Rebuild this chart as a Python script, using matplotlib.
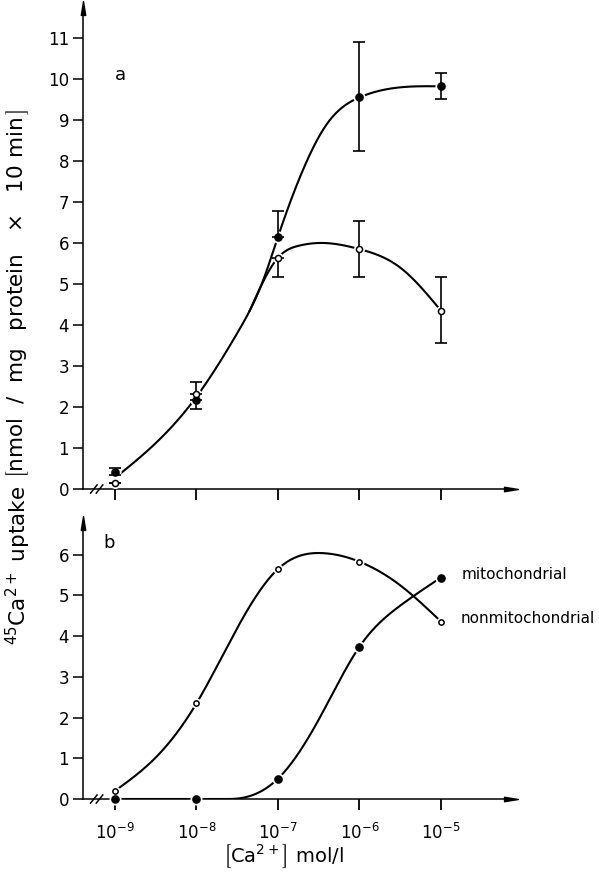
import numpy as np
import matplotlib
matplotlib.use("Agg")
import matplotlib.pyplot as plt
from matplotlib.path import Path

# x positions: decades above 1e-9 mol/l (0 -> 1e-9, 4 -> 1e-5)
conc_u = [0, 1, 2, 3, 4]
conc_labels = [r'$10^{-9}$', r'$10^{-8}$', r'$10^{-7}$', r'$10^{-6}$', r'$10^{-5}$']

# panel a: total uptake (filled) and uptake with inhibitor (open)
a_filled = [0.42, 2.18, 6.14, 9.55, 9.82]
a_filled_lo = [0.08, 0.23, 0.0, 1.30, 0.30]
a_filled_hi = [0.08, 0.0, 0.65, 1.35, 0.33]
a_open = [0.15, 2.32, 5.64, 5.85, 4.35]
a_open_lo = [0.0, 0.0, 0.48, 0.69, 0.78]
a_open_hi = [0.0, 0.28, 0.0, 0.69, 0.81]

# fitted curves in panel a
a_filled_fit_u = [0, 0.5, 1, 1.5, 1.82, 2, 2.3, 2.6, 3, 4]
a_filled_fit_y = [0.27, 1.12, 2.25, 3.8, 5.1, 6.15, 7.75, 8.9, 9.55, 9.82]
a_open_fit_u = [2, 2.25, 2.55, 3, 3.5, 4]
a_open_fit_y = [5.64, 5.93, 6.0, 5.85, 5.4, 4.35]
a_branch_u = 1.65

# panel b: mitochondrial (filled) and nonmitochondrial (open)
b_mito = [0.0, 0.0, 0.5, 3.74, 5.44]
b_nonmito = [0.2, 2.35, 5.65, 5.83, 4.36]
b_mito_flat_end = 1.4
b_mito_fit_u = [1.4, 2, 2.5, 3, 3.5, 4]
b_mito_fit_y = [0.0, 0.5, 1.95, 3.74, 4.75, 5.44]
b_nonmito_fit_u = [0, 0.5, 1, 1.5, 2, 2.55, 3, 3.5, 4]
b_nonmito_fit_y = [0.2, 1.02, 2.35, 4.2, 5.65, 6.04, 5.83, 5.25, 4.36]


def spline(xk, yk, xs, d0=None, dn=None):
    """Cubic spline through the knots; natural ends unless a slope is given."""
    x = np.asarray(xk, float)
    y = np.asarray(yk, float)
    n = len(x)
    h = np.diff(x)
    A = np.zeros((n, n))
    b = np.zeros(n)
    for i in range(1, n - 1):
        A[i, i - 1] = h[i - 1]
        A[i, i] = 2 * (h[i - 1] + h[i])
        A[i, i + 1] = h[i]
        b[i] = 6 * ((y[i + 1] - y[i]) / h[i] - (y[i] - y[i - 1]) / h[i - 1])
    if d0 is None:
        A[0, 0] = 1
    else:
        A[0, 0], A[0, 1] = 2 * h[0], h[0]
        b[0] = 6 * ((y[1] - y[0]) / h[0] - d0)
    if dn is None:
        A[-1, -1] = 1
    else:
        A[-1, -2], A[-1, -1] = h[-1], 2 * h[-1]
        b[-1] = 6 * (dn - (y[-1] - y[-2]) / h[-1])
    M = np.linalg.solve(A, b)
    xs = np.asarray(xs, float)
    i = np.clip(np.searchsorted(x, xs) - 1, 0, n - 2)
    t1 = x[i + 1] - xs
    t0 = xs - x[i]
    return (M[i] * t1**3 / (6 * h[i]) + M[i + 1] * t0**3 / (6 * h[i])
            + (y[i] / h[i] - M[i] * h[i] / 6) * t1
            + (y[i + 1] / h[i] - M[i + 1] * h[i] / 6) * t0)


# long thin arrow heads for the axes
ARROW_R = Path([(-1, -0.32), (1, 0), (-1, 0.32), (-1, -0.32)],
               [Path.MOVETO, Path.LINETO, Path.LINETO, Path.CLOSEPOLY])
ARROW_U = Path([(-0.32, -1), (0, 1), (0.32, -1), (-0.32, -1)],
               [Path.MOVETO, Path.LINETO, Path.LINETO, Path.CLOSEPOLY])

LW = 1.5


def style_axis(ax, ymax, yticks):
    ax.set_xlim(-0.393, 4.86)
    ax.set_ylim(0, ymax)
    for s in ['top', 'right']:
        ax.spines[s].set_visible(False)
    for s in ['left', 'bottom']:
        ax.spines[s].set_linewidth(1.1)
    ax.set_xticks(conc_u)
    ax.set_yticks(yticks)
    ax.tick_params(axis='x', direction='out', length=8, width=1.3, pad=9)
    ax.tick_params(axis='y', direction='out', length=7, width=1.1, pad=3,
                   labelsize=12)
    ax.plot(1.0, 0, marker=ARROW_R, color='k', markersize=10,
            transform=ax.transAxes, clip_on=False)
    ax.plot(0, 1.0, marker=ARROW_U, color='k', markersize=10,
            transform=ax.transAxes, clip_on=False)
    # axis break marks
    for c in [-0.26, -0.19]:
        ax.plot([c - 0.04, c + 0.04], [-0.1, 0.1], color='k', lw=1.1,
                clip_on=False)


def markers(ax, u, y, filled, ms):
    ax.plot(u, y, 'o', ms=ms + 2.5, color='white', mec='white',
            zorder=3, clip_on=False)
    if filled:
        ax.plot(u, y, 'o', ms=ms, color='k', mec='k', zorder=5, clip_on=False)
    else:
        ax.plot(u, y, 'o', ms=ms, mfc='white', mec='k', mew=1.1,
                zorder=5, clip_on=False)


fig = plt.figure(figsize=(5.99, 8.74), dpi=100)
ax1 = fig.add_axes([83 / 599, 1 - 489 / 874, 428 / 599, 481 / 874])
ax2 = fig.add_axes([83 / 599, 1 - 799 / 874, 428 / 599, 276 / 874])

# ---- panel a ----
style_axis(ax1, 11.73, range(0, 12))
ax1.set_xticklabels([])
uu = np.linspace(0, 4, 400)
ax1.plot(uu, spline(a_filled_fit_u, a_filled_fit_y, uu), color='k', lw=LW,
         zorder=2)
branch_y = float(spline(a_filled_fit_u, a_filled_fit_y, [a_branch_u])[0])
ou = [a_branch_u] + a_open_fit_u
oy = [branch_y] + a_open_fit_y
uo = np.linspace(a_branch_u, 4, 300)
ax1.plot(uo, spline(ou, oy, uo), color='k', lw=LW, zorder=2)

markers(ax1, conc_u, a_filled, True, 5.2)
markers(ax1, conc_u, a_open, False, 4.4)
ax1.errorbar(conc_u, a_filled, yerr=[a_filled_lo, a_filled_hi], fmt='none',
             ecolor='k', elinewidth=1.2, capsize=4, capthick=1.2, zorder=4)
ax1.errorbar(conc_u, a_open, yerr=[a_open_lo, a_open_hi], fmt='none',
             ecolor='k', elinewidth=1.2, capsize=4, capthick=1.2, zorder=4)
ax1.text(0.0, 10.1, 'a', fontsize=13, ha='left', va='center')

# ---- panel b ----
style_axis(ax2, 6.78, range(0, 7))
ax2.set_xticklabels(conc_labels, fontsize=12)
uf = np.linspace(0, b_mito_flat_end, 50)
ax2.plot(uf, np.zeros_like(uf), color='k', lw=LW, zorder=2)
um = np.linspace(b_mito_flat_end, 4, 300)
ax2.plot(um, spline(b_mito_fit_u, b_mito_fit_y, um, d0=0.0), color='k',
         lw=LW, zorder=2)
ax2.plot(uu, spline(b_nonmito_fit_u, b_nonmito_fit_y, uu), color='k', lw=LW,
         zorder=2)
markers(ax2, conc_u, b_mito, True, 5.2)
markers(ax2, conc_u, b_nonmito, False, 3.8)
ax2.text(-0.07, 6.3, 'b', fontsize=13, ha='center', va='center')
ax2.text(4.25, b_mito[-1] + 0.08, 'mitochondrial', fontsize=11,
         ha='left', va='center')
ax2.text(4.24, b_nonmito[-1] + 0.08, 'nonmitochondrial', fontsize=11,
         ha='left', va='center')

# y label in two pieces so the word spacing follows the original
fig.text(18 / 599, 1 - 645 / 874,
         r'$^{45}\mathrm{Ca}^{2+}$ uptake',
         rotation=90, ha='center', va='bottom', fontsize=15.5)
fig.text(18 / 599, 1 - 478 / 874,
         r'$\left[\mathrm{nmol\ \ /\ \ mg\ \ \,protein\ \ \,}\times'
         r'\mathrm{\ \ \,10\,\,min}^{\,}_{\,}\right]$',
         rotation=90, ha='center', va='bottom', fontsize=15.5)
fig.text(283 / 599, 1 - 856 / 874,
         r'$\left[\mathrm{Ca}^{2+}_{\,}\right]$ mol/l',
         ha='center', va='center', fontsize=14)

plt.savefig('out.png', dpi=100)
